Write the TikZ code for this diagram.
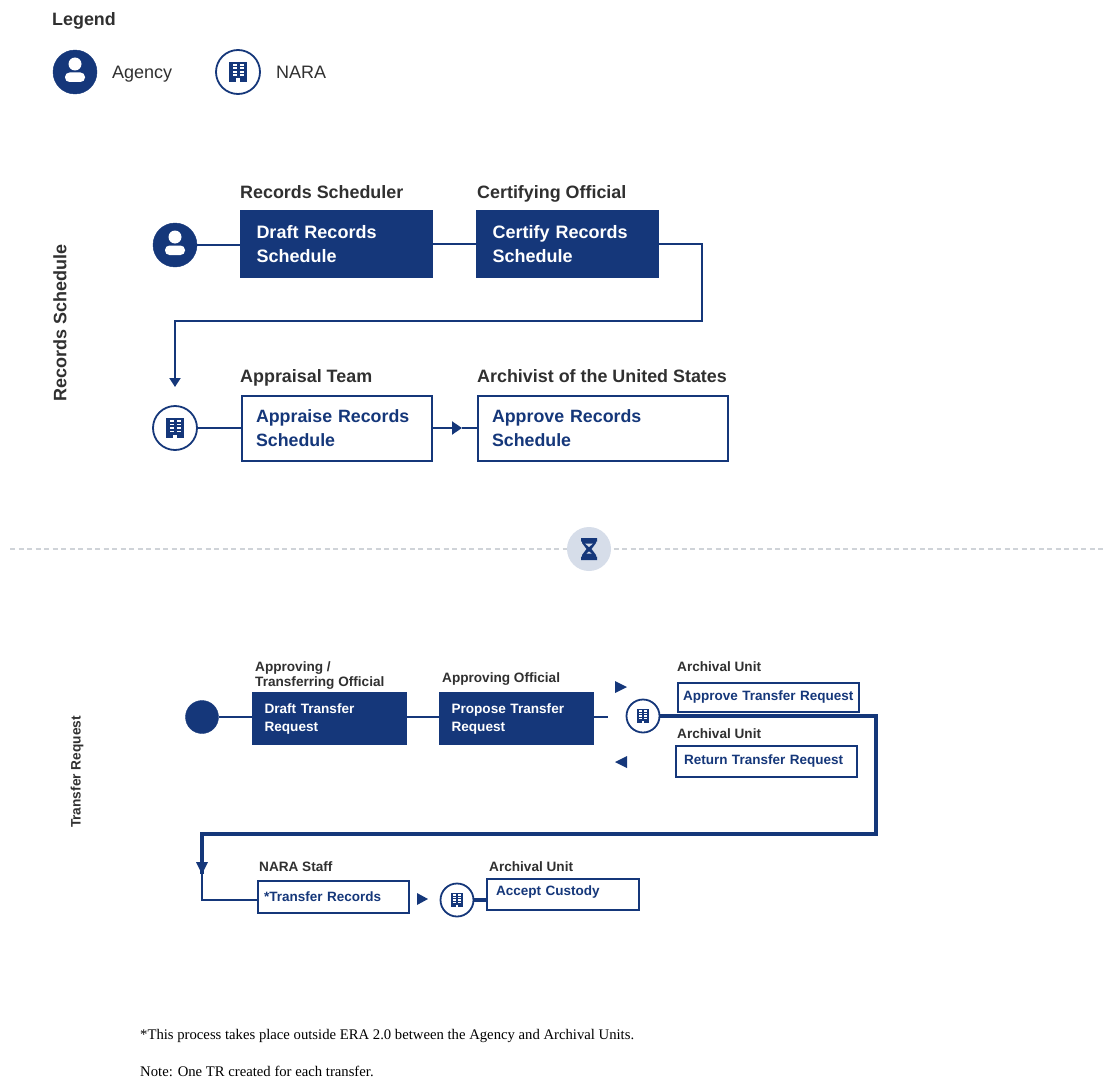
\documentclass[tikz,border=0pt]{standalone}
\usepackage{fontspec}
\setmainfont{Liberation Sans}
\newfontfamily\notefont{Liberation Serif}
\usetikzlibrary{arrows.meta}
\definecolor{navy}{HTML}{15377A}
\definecolor{inkgray}{HTML}{303030}
\definecolor{haze}{HTML}{D6DDE9}
\definecolor{dashgray}{HTML}{CFD3D8}
\tikzset{
	filledbox/.style={draw=navy, fill=navy, text=white, font=\bfseries\fontsize{18}{24}\selectfont, anchor=north west, align=left, inner ysep=0pt, inner xsep=16pt, line width=1pt},
	openbox/.style={draw=navy, fill=white, text=navy, font=\bfseries\fontsize{17.8}{24}\selectfont, anchor=north west, align=left, inner ysep=0pt, inner xsep=14pt, line width=2pt},
	smallfilled/.style={filledbox, font=\bfseries\fontsize{13.6}{18}\selectfont, inner xsep=12pt},
	smallopen/.style={openbox, font=\bfseries\fontsize{13.5}{18}\selectfont},
	heading/.style={text=inkgray, font=\bfseries\fontsize{17.9}{20}\selectfont, anchor=base west, inner sep=0pt},
	smallheading/.style={text=inkgray, font=\bfseries\fontsize{13.6}{15}\selectfont, anchor=base west, align=left, inner sep=0pt},
	legendtext/.style={text=inkgray, font=\fontsize{18}{20}\selectfont, anchor=base west, inner sep=0pt},
	notetext/.style={text=black, font=\notefont\fontsize{14.7}{15}\selectfont, anchor=base west, inner sep=0pt},
	flow/.style={draw=navy, line width=2pt},
	heavyflow/.style={draw=navy, line width=3.4pt},
	tip/.style={fill=navy, draw=none},
	dotcircle/.style={circle, fill=navy, draw=navy, inner sep=0pt, minimum size=#1},
	ringcircle/.style={circle, fill=white, draw=navy, line width=1.8pt, inner sep=0pt, minimum size=#1},
	person/.pic={
		\fill[white] (0,-8) circle (6.5);
		\fill[white, rounded corners=4.5pt] (-10,10) rectangle (10,0.5);
	},
	tower/.pic={
		\fill[navy] (-9,-10) rectangle (9,10);
		\foreach \i in {-8,-4.5,-1,2.5}{
			\fill[white] (-5.5,\i) rectangle (-1.5,\i+1.9);
			\fill[white] (1.5,\i) rectangle (5.5,\i+1.9);
		}
		\fill[white] (-2,6.5) rectangle (2,10);
	},
}
\begin{document}
\begin{tikzpicture}[x=1pt, y=-1pt]
	\useasboundingbox (0,0) rectangle (1106,1081);

	% legend
	\node[heading] (legend) at (52,26) {Legend};
	\node[dotcircle=44pt] (legendagency) at (75,72) {};
	\pic at (legendagency) {person};
	\node[legendtext] (agencytext) at (112,78) {Agency};
	\node[ringcircle=44pt] (legendnara) at (238,72) {};
	\pic at (legendnara) {tower};
	\node[legendtext] (naratext) at (276,78) {NARA};

	% records schedule
	\node[text=inkgray, font=\bfseries\fontsize{18}{20}\selectfont, rotate=90, inner sep=0pt] (schedulelabel) at (60,323) {Records Schedule};

	\node[heading] (schedulerhead) at (240,198) {Records Scheduler};
	\node[heading] (certifierhead) at (477,198) {Certifying Official};
	\node[heading] (appraiserhead) at (240,382) {Appraisal Team};
	\node[heading] (archivisthead) at (477,382) {Archivist of the United States};

	\node[dotcircle=44pt] (agencyicon) at (175,245) {};
	\pic at (agencyicon) {person};
	\node[filledbox, minimum height=67pt, text width=160pt] (draftschedule) at (240,210) {Draft Records\\Schedule};
	\node[filledbox, minimum height=67pt, text width=150pt] (certifyschedule) at (476,210) {Certify Records\\Schedule};
	\node[ringcircle=44pt] (naraicon) at (175,428) {};
	\pic at (naraicon) {tower};
	\node[openbox, minimum height=65pt, text width=162pt] (appraiseschedule) at (241,395) {Appraise Records\\Schedule};
	\node[openbox, minimum height=65pt, text width=222pt] (approveschedule) at (477,395) {Approve Records\\Schedule};

	\coordinate (dropend) at (175,387);
	\coordinate (midtip) at (462,428);
	\draw[flow] (agencyicon) -- (draftschedule.west |- agencyicon);
	\draw[flow] (draftschedule) -- (certifyschedule);
	\draw[flow, -{Triangle[width=11pt,length=9pt]}] (certifyschedule.east) -| (702,321) -| (dropend);
	\draw[flow] (naraicon) -- (appraiseschedule.west |- naraicon);
	\draw[flow, -{Triangle[width=13pt,length=10pt]}] (appraiseschedule.east |- midtip) -- (midtip);
	\draw[flow] (midtip) -- (approveschedule.west |- midtip);

	% separator
	\coordinate (ruleleft) at (10,549);
	\coordinate (ruleright) at (1106,549);
	\draw[dashgray, line width=1.6pt, dash pattern=on 5pt off 3.5pt] (ruleleft) -- (ruleright);
	\node[circle, fill=haze, inner sep=0pt, minimum size=44pt] (hourglass) at (589,549) {};
	\fill[navy] (581,538) rectangle (597,541.5) (581,556.5) rectangle (597,560);
	\fill[navy] (582,541) -- (596,541) -- (596,543) -- (591.5,549) -- (596,555) -- (596,557) -- (582,557) -- (582,555) -- (586.5,549) -- (582,543) -- cycle;
	\fill[haze] (585,543.5) -- (593,543.5) -- (589,547) -- cycle (589,551.5) -- (591.5,553.5) -- (586.5,553.5) -- cycle;

	% transfer request
	\node[text=inkgray, font=\bfseries\fontsize{13.7}{15}\selectfont, rotate=90, inner sep=0pt] (transferlabel) at (77,772) {Transfer Request};

	\node[smallheading] (officialhead) at (255,686) {Approving /\\[0pt]Transferring Official};
	\node[smallheading] (proposerhead) at (442,682) {Approving Official};
	\node[smallheading] (unithead) at (677,671) {Archival Unit};
	\node[smallheading] (returnhead) at (677,738) {Archival Unit};
	\node[smallheading] (staffhead) at (259,871) {NARA Staff};
	\node[smallheading] (custodyhead) at (489,871) {Archival Unit};

	\node[dotcircle=33pt] (startdot) at (202,717) {};
	\node[smallfilled, minimum height=52pt, text width=130pt] (drafttransfer) at (252,692) {Draft Transfer\\Request};
	\node[smallfilled, minimum height=52pt, text width=130pt] (proposetransfer) at (439,692) {Propose Transfer\\Request};
	\node[smallopen, inner xsep=5pt, minimum height=29pt, text width=171pt] (approvetransfer) at (677,682) {\mbox{Approve Transfer Request}};
	\node[smallopen, inner xsep=8pt, minimum height=31pt, text width=165pt] (returntransfer) at (675,745) {Return Transfer Request};
	\node[ringcircle=33pt] (reviewicon) at (643,716) {};
	\pic[scale=.72] at (reviewicon) {tower};
	\node[smallopen, inner xsep=6pt, minimum height=32pt, text width=139pt] (transferrecords) at (257,880) {*Transfer Records};
	\node[smallopen, inner xsep=9pt, minimum height=31pt, text width=134pt, text height=13pt, text depth=11pt] (acceptcustody) at (486,878) {Accept Custody};

	\coordinate (stubend) at (608,717);
	\coordinate (forwardtip) at (615,681);
	\coordinate (backtip) at (615,762);
	\coordinate (recordstip) at (417,893);
	\coordinate (loopright) at (876,834);
	\coordinate (loopleft) at (202,834);
	\coordinate (looptip) at (202,874);
	\draw[flow] (startdot) -- (drafttransfer.west |- startdot);
	\draw[flow] (drafttransfer.east |- stubend) -- (proposetransfer.west |- stubend);
	\draw[flow] (proposetransfer.east |- stubend) -- (stubend);
	\fill[tip] (forwardtip) -- ++(12,6) -- ++(-12,6) -- cycle;
	\fill[tip] (backtip) -- ++(12,-6) -- ++(0,12) -- cycle;
	\draw[heavyflow] (reviewicon.east) -- (reviewicon.east -| loopright) -- (loopright) -- (loopleft) -- (looptip);
	\draw[flow] (looptip) -- (202,900) -- (transferrecords.west |- 0,900);
	\fill[tip] (196,862) -- (208,862) -- (202,874) -- cycle;
	\fill[tip] (recordstip) -- ++(11,6) -- ++(-11,6) -- cycle;
	\coordinate (custodyspot) at (457,900);
	\draw[heavyflow] (custodyspot) -- (acceptcustody.west |- custodyspot);
	\node[ringcircle=33pt] (custodyicon) at (custodyspot) {};
	\pic[scale=.72] at (custodyicon) {tower};

	% notes
	\node[notetext] (footstar) at (140,1039) {*This process takes place outside ERA 2.0 between the Agency and Archival Units.};
	\node[notetext] (footnote) at (140,1076) {Note: One TR created for each transfer.};
\end{tikzpicture}
\end{document}
